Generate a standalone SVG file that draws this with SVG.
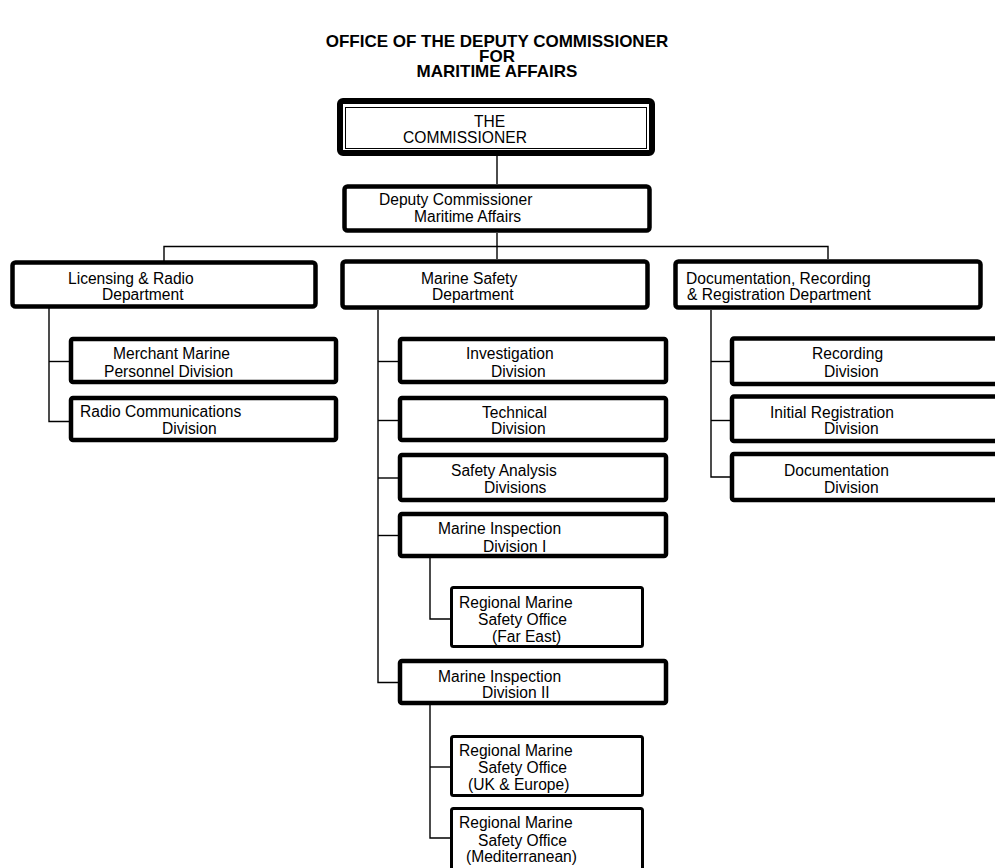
<svg xmlns="http://www.w3.org/2000/svg" width="995" height="868" viewBox="0 0 995 868">
<style>
  .t { font-family: "Liberation Sans", Arial, sans-serif; font-size: 15.6px; fill: #000; }
  .title { font-family: "Liberation Sans", Arial, sans-serif; font-size: 17px; font-weight: bold; fill: #000; text-anchor: middle; }
  .box { fill: #fff; stroke: #000; stroke-width: 4.5; }
  .sbox { fill: #fff; stroke: #000; stroke-width: 3; }
  .conn line, .conn polyline { stroke: #000; stroke-width: 1.4; fill: none; }
</style>
<rect width="995" height="868" fill="#fff"/>
<g id="title">
  <text class="title" x="497" y="47">OFFICE OF THE DEPUTY COMMISSIONER</text>
  <text class="title" x="497" y="62">FOR</text>
  <text class="title" x="497" y="77">MARITIME AFFAIRS</text>
</g>
<g class="conn" id="connectors">
  <line x1="497" y1="156" x2="497" y2="184"/>
  <line x1="497" y1="233" x2="497" y2="259"/>
  <polyline points="164,261 164,246.5 828,246.5 828,259"/>
  <polyline points="49,308 49,421.5 69,421.5"/>
  <line x1="49" y1="361.5" x2="69" y2="361.5"/>
  <polyline points="378,310 378,682.5 398,682.5"/>
  <line x1="378" y1="361.5" x2="398" y2="361.5"/>
  <line x1="378" y1="420.5" x2="398" y2="420.5"/>
  <line x1="378" y1="478" x2="398" y2="478"/>
  <line x1="378" y1="535.5" x2="398" y2="535.5"/>
  <polyline points="430,558 430,619 450,619"/>
  <polyline points="430,705 430,838 450,838"/>
  <line x1="430" y1="767" x2="450" y2="767"/>
  <polyline points="711,310 711,477 730,477"/>
  <line x1="711" y1="361.5" x2="730" y2="361.5"/>
  <line x1="711" y1="420.5" x2="730" y2="420.5"/>
</g>
<g id="commissioner">
  <rect x="340" y="101" width="312" height="52" rx="3" fill="#fff" stroke="#000" stroke-width="6"/>
  <rect x="345.5" y="107.5" width="301" height="41" fill="none" stroke="#000" stroke-width="1"/>
  <text class="t" x="474" y="127">THE</text>
  <text class="t" x="403" y="143">COMMISSIONER</text>
</g>
<g id="deputy">
  <rect class="box" x="344.5" y="186.5" width="305" height="44" rx="3" stroke-width="5"/>
  <text class="t" x="379" y="205">Deputy Commissioner</text>
  <text class="t" x="414" y="222">Maritime Affairs</text>
</g>
<g id="licensing">
  <rect class="box" x="12.5" y="262.5" width="303" height="44" rx="3"/>
  <text class="t" x="68" y="283.5">Licensing &amp; Radio</text>
  <text class="t" x="102" y="299.5">Department</text>
</g>
<g id="marine-safety">
  <rect class="box" x="342.5" y="261.5" width="305" height="46" rx="3" stroke-width="5"/>
  <text class="t" x="421" y="284">Marine Safety</text>
  <text class="t" x="432" y="299.5">Department</text>
</g>
<g id="documentation-dept">
  <rect class="box" x="675.5" y="261.5" width="305" height="46" rx="3" stroke-width="5"/>
  <text class="t" x="686" y="284">Documentation, Recording</text>
  <text class="t" x="687" y="299.5">&amp; Registration Department</text>
</g>
<g id="merchant-marine">
  <rect class="box" x="71" y="339" width="265" height="43" rx="2"/>
  <text class="t" x="113" y="359">Merchant Marine</text>
  <text class="t" x="104" y="377">Personnel Division</text>
</g>
<g id="radio-communications">
  <rect class="box" x="71" y="398" width="265" height="42" rx="2"/>
  <text class="t" x="80" y="417">Radio Communications</text>
  <text class="t" x="162" y="434">Division</text>
</g>
<g id="investigation">
  <rect class="box" x="400" y="339" width="266" height="43" rx="2"/>
  <text class="t" x="466" y="359">Investigation</text>
  <text class="t" x="491" y="377">Division</text>
</g>
<g id="technical">
  <rect class="box" x="400" y="398" width="266" height="42" rx="2"/>
  <text class="t" x="482" y="417.5">Technical</text>
  <text class="t" x="491" y="434">Division</text>
</g>
<g id="safety-analysis">
  <rect class="box" x="400" y="455" width="266" height="45" rx="2"/>
  <text class="t" x="451" y="476">Safety Analysis</text>
  <text class="t" x="484" y="493">Divisions</text>
</g>
<g id="marine-inspection-1">
  <rect class="box" x="400" y="514" width="266" height="42" rx="2"/>
  <text class="t" x="438" y="534">Marine Inspection</text>
  <text class="t" x="483" y="552">Division I</text>
</g>
<g id="rmso-far-east">
  <rect class="sbox" x="451.5" y="587.5" width="191" height="59" rx="2"/>
  <text class="t" x="459" y="608">Regional Marine</text>
  <text class="t" x="478" y="625">Safety Office</text>
  <text class="t" x="492" y="642">(Far East)</text>
</g>
<g id="marine-inspection-2">
  <rect class="box" x="400" y="661" width="266" height="42" rx="2"/>
  <text class="t" x="438" y="682">Marine Inspection</text>
  <text class="t" x="482" y="698">Division II</text>
</g>
<g id="rmso-uk-europe">
  <rect class="sbox" x="451.5" y="736.5" width="191" height="59" rx="2"/>
  <text class="t" x="459" y="756">Regional Marine</text>
  <text class="t" x="478" y="772.5">Safety Office</text>
  <text class="t" x="468" y="790">(UK &amp; Europe)</text>
</g>
<g id="rmso-mediterranean">
  <rect class="sbox" x="451.5" y="808.5" width="191" height="80" rx="2"/>
  <text class="t" x="459" y="828">Regional Marine</text>
  <text class="t" x="478" y="845.5">Safety Office</text>
  <text class="t" x="466" y="862">(Mediterranean)</text>
</g>
<g id="recording">
  <rect class="box" x="732" y="338.5" width="300" height="45.5" rx="2"/>
  <text class="t" x="812" y="359">Recording</text>
  <text class="t" x="824" y="377">Division</text>
</g>
<g id="initial-registration">
  <rect class="box" x="732" y="396.5" width="300" height="44.5" rx="2"/>
  <text class="t" x="770" y="417.5">Initial Registration</text>
  <text class="t" x="824" y="434">Division</text>
</g>
<g id="documentation-division">
  <rect class="box" x="732" y="454" width="300" height="46" rx="2"/>
  <text class="t" x="784" y="476">Documentation</text>
  <text class="t" x="824" y="493">Division</text>
</g>
</svg>
